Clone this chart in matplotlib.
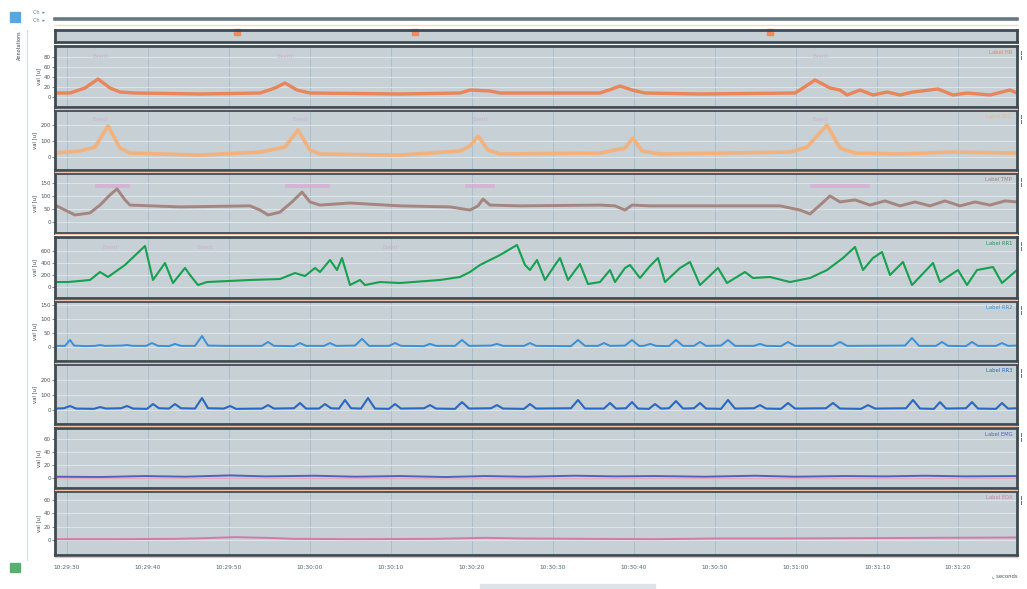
import numpy as np
import matplotlib
matplotlib.use("Agg")
import matplotlib.pyplot as plt
from matplotlib.lines import Line2D
from matplotlib.patches import Rectangle

# ---------------- data (sample index at 8.1 samples/s, value) ----------------
FS = 8.1
T0_SAMPLE = 12
TICK_SECONDS = [0, 10, 20, 30, 40, 50, 60, 70, 80, 90, 100, 110]
TICK_LABELS = ["10:29:30", "10:29:40", "10:29:50", "10:30:00", "10:30:10", "10:30:20",
               "10:30:30", "10:30:40", "10:30:50", "10:31:00", "10:31:10", "10:31:20"]

event_samples = [182, 360, 715]

ch1 = [(0, 8), (15, 8), (30, 18), (43, 36), (55, 18), (65, 10), (80, 8), (145, 6), (205, 8),
       (220, 18), (230, 28), (242, 14), (255, 8), (345, 6), (405, 8), (415, 14), (435, 12),
       (445, 8), (545, 8), (557, 16), (565, 22), (577, 14), (590, 8), (645, 6), (740, 8),
       (748, 18), (760, 34), (775, 18), (785, 14), (792, 4), (805, 14), (818, 4), (832, 10),
       (845, 4), (858, 10), (883, 16), (898, 4), (912, 8), (935, 4), (955, 14), (962, 8)]

ch2 = [(0, 25), (25, 38), (40, 62), (53, 194), (65, 56), (75, 25), (145, 12), (205, 31),
       (230, 62), (243, 169), (255, 44), (265, 19), (345, 12), (405, 38), (415, 69), (423, 131),
       (433, 44), (445, 19), (545, 25), (570, 56), (578, 119), (587, 38), (605, 19), (735, 31),
       (752, 62), (772, 200), (785, 56), (800, 25), (845, 19), (895, 31), (962, 25)]

ch3 = [(0, 65), (10, 46), (20, 27), (35, 35), (45, 65), (55, 104), (62, 127), (70, 85), (75, 65),
       (125, 58), (195, 62), (205, 46), (213, 27), (225, 38), (237, 77), (247, 115), (255, 77),
       (265, 65), (295, 73), (345, 62), (395, 58), (415, 46), (423, 62), (428, 88), (435, 65),
       (465, 62), (545, 65), (560, 62), (570, 46), (577, 65), (595, 62), (725, 62), (745, 46),
       (755, 31), (765, 65), (775, 100), (785, 77), (800, 85), (815, 65), (830, 81), (845, 62),
       (860, 77), (875, 62), (890, 81), (905, 62), (920, 77), (935, 65), (950, 81), (962, 77)]

ch4 = [(0, 83), (13, 83), (35, 117), (45, 250), (53, 167), (70, 367), (90, 683), (98, 117),
       (110, 400), (118, 67), (130, 317), (135, 200), (143, 33), (152, 83), (195, 117), (225, 133),
       (240, 233), (250, 183), (260, 317), (265, 250), (275, 450), (282, 283), (287, 483),
       (295, 33), (305, 117), (310, 33), (325, 83), (345, 67), (385, 117), (405, 167), (415, 250),
       (425, 367), (445, 533), (462, 700), (470, 367), (475, 283), (482, 450), (490, 117),
       (500, 367), (505, 483), (513, 117), (525, 383), (533, 50), (545, 83), (555, 283), (560, 83),
       (570, 317), (575, 367), (585, 150), (595, 350), (603, 483), (610, 83), (625, 317),
       (635, 417), (645, 33), (663, 317), (672, 67), (690, 250), (698, 150), (715, 167),
       (735, 83), (755, 150), (772, 283), (788, 483), (800, 667), (808, 283), (818, 483),
       (827, 583), (835, 200), (848, 417), (857, 33), (878, 400), (885, 83), (903, 283),
       (912, 33), (922, 283), (938, 333), (947, 67), (962, 283)]

ch5 = [(0, 4), (10, 4), (15, 25), (19, 5), (30, 3), (40, 4), (45, 7), (50, 4), (66, 5), (72, 7),
       (78, 4), (91, 4), (97, 14), (103, 4), (114, 3), (120, 11), (126, 4), (140, 4), (147, 39),
       (153, 5), (170, 4), (207, 4), (213, 18), (219, 4), (239, 3), (245, 14), (251, 4), (269, 4),
       (275, 14), (281, 4), (300, 5), (307, 29), (314, 4), (334, 4), (340, 14), (346, 4),
       (369, 3), (375, 11), (381, 4), (400, 4), (407, 25), (414, 4), (436, 5), (442, 11),
       (448, 4), (469, 4), (475, 14), (481, 4), (516, 3), (523, 25), (530, 4), (543, 4),
       (549, 14), (555, 4), (570, 5), (577, 25), (584, 4), (589, 4), (595, 11), (601, 4),
       (614, 3), (621, 25), (628, 4), (639, 4), (645, 18), (651, 4), (666, 5), (673, 25),
       (680, 4), (699, 4), (705, 11), (711, 4), (726, 3), (733, 18), (740, 4), (778, 4),
       (785, 18), (792, 4), (850, 5), (857, 32), (864, 4), (881, 4), (887, 18), (893, 4),
       (911, 3), (917, 18), (923, 4), (941, 4), (947, 14), (953, 4), (962, 5)]

ch6 = [(0, 10), (9, 12), (15, 27), (21, 10), (39, 8), (45, 20), (51, 10), (66, 12), (72, 27),
       (78, 10), (92, 8), (98, 40), (104, 12), (114, 10), (120, 40), (126, 12), (140, 10),
       (147, 80), (153, 12), (169, 10), (175, 27), (181, 8), (207, 10), (213, 33), (219, 10),
       (239, 12), (245, 47), (251, 10), (264, 10), (270, 40), (276, 12), (284, 10), (290, 67),
       (296, 12), (306, 10), (313, 80), (320, 10), (334, 8), (340, 40), (346, 10), (369, 12),
       (375, 33), (381, 10), (400, 8), (407, 53), (414, 10), (436, 12), (442, 33), (448, 10),
       (469, 8), (475, 40), (481, 10), (516, 12), (523, 67), (530, 10), (549, 10), (555, 47),
       (561, 10), (571, 12), (577, 53), (583, 10), (594, 8), (600, 40), (606, 10), (614, 12),
       (621, 60), (628, 10), (639, 12), (645, 47), (651, 10), (666, 8), (673, 67), (680, 10),
       (699, 12), (705, 33), (711, 10), (726, 8), (733, 47), (740, 10), (771, 12), (778, 47),
       (785, 10), (806, 8), (813, 33), (820, 10), (851, 12), (858, 67), (865, 10), (879, 8),
       (885, 53), (891, 10), (911, 12), (917, 53), (923, 10), (941, 8), (947, 47), (953, 10),
       (962, 12)]

ch7 = [(0, 2), (45, 1.5), (90, 3), (130, 2), (175, 4), (210, 2.5), (260, 3.5), (300, 2),
       (345, 3), (390, 1.5), (430, 3), (470, 2), (520, 3.5), (560, 2.5), (600, 3), (650, 2),
       (700, 3.5), (740, 2), (790, 3), (830, 2.5), (870, 3.5), (910, 2.5), (962, 3)]
ch7b = [(0, -1), (200, -0.5), (400, -1.2), (600, -0.8), (800, -1), (962, -0.6)]

ch8 = [(0, 1.5), (60, 1.5), (120, 2), (150, 3), (180, 4.5), (210, 3.5), (240, 2), (300, 1.5),
       (380, 2), (430, 3.5), (470, 2.5), (530, 2), (600, 1.5), (660, 2.5), (720, 2.5), (800, 3),
       (880, 3.5), (962, 4)]

# ---------------- layout ----------------
W, H = 1027, 589
fig = plt.figure(figsize=(W / 100, H / 100), dpi=100)
fig.patch.set_facecolor("white")

BG = "#c7d0d5"
SPINE = "#3e4b52"
XL, XR = 55, 1017


def ax_at(y0, y1):
    return fig.add_axes([XL / W, 1 - y1 / H, (XR - XL) / W, (y1 - y0) / H])


def to_t(samples):
    return (np.asarray(samples, dtype=float) - T0_SAMPLE) / FS


XLIM = ((0 - T0_SAMPLE) / FS, (962 - T0_SAMPLE) / FS)

panels = [
    # (top px, bottom px, data, color, lw, ylim, yticks, name)
    (46, 107, ch1, "#e8855b", 2.4, (-20, 102), [0, 20, 40, 60, 80], "Label HR"),
    (110, 170, ch2, "#f2b27e", 2.6, (-81, 294), [0, 100, 200], "Label SCL"),
    (173, 233, ch3, "#a5857f", 2.1, (-42, 188), [0, 50, 100, 150], "Label TMP"),
    (237, 298, ch4, "#16a050", 1.5, (-183, 833), [0, 200, 400, 600], "Label RR1"),
    (301, 361, ch5, "#3b90d8", 1.4, (-50, 164), [0, 50, 100, 150], "Label RR2"),
    (364, 424, ch6, "#2a68c2", 1.5, (-93, 307), [0, 100, 200], "Label RR3"),
    (428, 488, ch7, "#4f62c0", 1.4, (-15.4, 77), [0, 20, 40, 60], "Label EMG"),
    (491, 555, ch8, "#d27aa8", 1.4, (-22, 73), [0, 20, 40, 60], "Label EDA"),
]


def style_axes(ax, ylim, yticks):
    ax.set_facecolor(BG)
    ax.set_xlim(*XLIM)
    ax.set_ylim(*ylim)
    ax.set_xticks(TICK_SECONDS)
    ax.set_yticks(yticks)
    ax.grid(axis="x", color="#a6c0d0", lw=0.7)
    ax.grid(axis="y", color="#dce3e7", lw=0.8)
    ax.set_axisbelow(True)
    for s in ax.spines.values():
        s.set_color(SPINE)
        s.set_linewidth(2.0)
    ax.tick_params(axis="y", labelsize=4, colors="#4a5560", length=2, width=0.5, pad=1)
    ax.tick_params(axis="x", length=0, labelbottom=False)


# top bar
fig.add_artist(Line2D([XL / W, XR / W], [1 - 19 / H] * 2, color="#667880", lw=2.6))
fig.add_artist(Line2D([XL / W, XR / W], [1 - 25 / H] * 2, color="#f6d6c8", lw=1.0))

# event strip
axe = ax_at(30, 42)
style_axes(axe, (0, 1), [])
axe.grid(False)
axe.plot(to_t(event_samples), [0.8] * len(event_samples), "s", color="#ef8a5e",
         ms=4, clip_on=False)

for i, (y0, y1, data, col, lw, ylim, yt, name) in enumerate(panels):
    ax = ax_at(y0, y1)
    style_axes(ax, ylim, yt)
    s, v = zip(*data)
    ax.plot(to_t(s), v, color=col, lw=lw, solid_joinstyle="round")
    if i == 6:
        sb, vb = zip(*ch7b)
        ax.plot(to_t(sb), vb, color="#e0a0b4", lw=0.9, alpha=0.8)
    ax.text(0.995, 0.93, name, transform=ax.transAxes, ha="right", va="top",
            fontsize=3.8, color=col)
    ax.set_ylabel("val [u]", fontsize=3.8, color="#3a4550", labelpad=2)
    fig.text(1021 / W, 1 - (y0 + 9) / H, "¦", fontsize=7, color="#3e4b52",
             ha="center", va="center")
    fig.add_artist(Line2D([XL / W, XR / W], [1 - (y1 + 1.5) / H] * 2,
                          color="#f4c0ab", lw=0.9))
    if i == len(panels) - 1:
        ax.tick_params(axis="x", labelbottom=True, labelsize=4.2, colors="#4f6475", pad=7)
        ax.set_xticklabels(TICK_LABELS)

# faint annotations
ann = [(1, [100, 285, 820], 0.82), (2, [100, 300, 480, 820], 0.85), (4, [110, 205, 390], 0.82)]
annot_axes = fig.axes
for idx, xs, yy in ann:
    a = annot_axes[idx]
    lo, hi = a.get_ylim()
    for xp in xs:
        a.text((xp - 55 - T0_SAMPLE) / FS, lo + yy * (hi - lo),
               "Event", fontsize=4, color="#c9a6cf", ha="center", va="center", alpha=0.8)
ax3 = annot_axes[3]
for x0p, x1p in [(95, 130), (285, 330), (465, 495), (810, 870)]:
    ax3.add_patch(Rectangle(((x0p - 55 - T0_SAMPLE) / FS, 130), (x1p - x0p) / FS, 14,
                            color="#d9a9d6", alpha=0.7, lw=0))

# left decorations
fig.add_artist(Line2D([27 / W, 27 / W], [1 - 30 / H, 1 - 560 / H], color="#cfe0ee", lw=0.8))
fig.add_artist(Rectangle((10 / W, 1 - 22 / H), 10 / W, 10 / H, color="#5aa6e0"))
fig.text(33 / W, 1 - 14 / H, "Ch  ▸", fontsize=3.5, color="#5a8a90")
fig.text(33 / W, 1 - 22 / H, "Ch  ▸", fontsize=3.5, color="#5a8a90")
fig.text(19 / W, 1 - 45 / H, "Annotations", fontsize=3.5, color="#3a4550", rotation=90,
         ha="center", va="center")
fig.add_artist(Rectangle((10 / W, 1 - 572 / H), 10 / W, 9 / H, color="#58b070"))
fig.text(992 / W, 1 - 577 / H, "⌞ seconds", fontsize=3.8, color="#4a5560", ha="left")
fig.add_artist(Rectangle((480 / W, 1 - 589 / H), 175 / W, 5 / H, color="#dde3e8"))

fig.savefig("out.png", dpi=100)
